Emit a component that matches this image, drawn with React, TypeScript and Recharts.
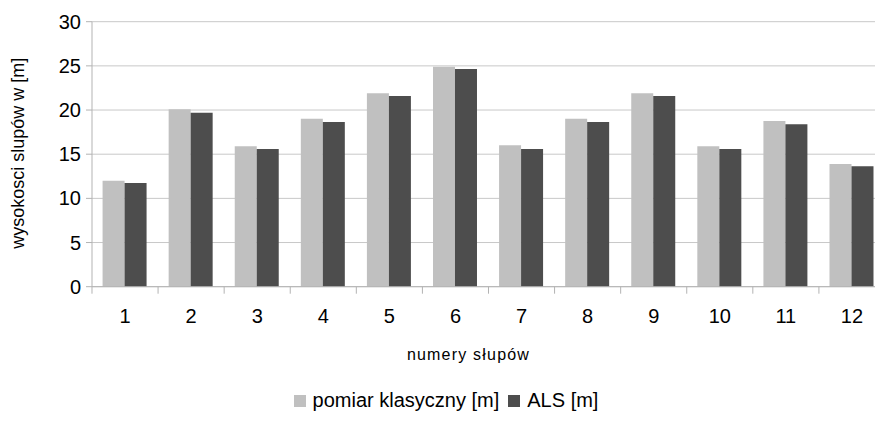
import React from "react";
import {
  BarChart,
  Bar,
  XAxis,
  YAxis,
  CartesianGrid,
  Legend,
} from "recharts";

const poles = ["1", "2", "3", "4", "5", "6", "7", "8", "9", "10", "11", "12"];
const classic = [12.0, 20.1, 15.9, 19.0, 21.9, 24.9, 16.0, 19.0, 21.9, 15.9, 18.75, 13.9];
const als = [11.75, 19.7, 15.6, 18.65, 21.6, 24.65, 15.6, 18.65, 21.6, 15.6, 18.4, 13.65];
const yTicks = [0, 5, 10, 15, 20, 25, 30];

const data = poles.map((p, i) => ({ pole: p, classic: classic[i], als: als[i] }));

const FONT = "'Liberation Sans', Arial, sans-serif";
const AXIS = "#b3b3b3";
const BAND = 66.1;

function XTick({ x, y, payload }: any) {
  return (
    <g>
      <line x1={x - BAND / 2} x2={x - BAND / 2} y1={y} y2={y + 7} stroke={AXIS} />
      <text x={x} y={y + 36} textAnchor="middle" fontSize={20} fontFamily={FONT} fill="#000">
        {payload.value}
      </text>
    </g>
  );
}

function LegendBox() {
  const items = [
    { name: "pomiar klasyczny [m]", color: "#c0c0c0" },
    { name: "ALS [m]", color: "#4d4d4d" },
  ];
  return (
    <div
      style={{
        display: "flex",
        justifyContent: "center",
        alignItems: "center",
        fontFamily: FONT,
        fontSize: 20,
        color: "#000",
        width: "100%",
      }}
    >
      {items.map((it, i) => (
        <span key={it.name} style={{ display: "flex", alignItems: "center", marginLeft: i ? 9 : 0 }}>
          <span style={{ width: 12, height: 12, background: it.color, marginRight: 7 }} />
          {it.name}
        </span>
      ))}
    </div>
  );
}

export default function App() {
  return (
    <div style={{ position: "absolute", left: 0, top: 0, width: 875, height: 425, overflow: "hidden", background: "#fff" }}>
      <BarChart
        width={892}
        height={425}
        data={data}
        margin={{ top: 21.7, right: 7, left: 0, bottom: 58.3 }}
        barCategoryGap="16%"
        barGap={0}
      >
        <CartesianGrid vertical={false} stroke="#c8c8c8" />
        <XAxis
          dataKey="pole"
          height={80}
          stroke={AXIS}
          tickLine={false}
          tickSize={0}
          tickMargin={0}
          tick={<XTick />}
          label={(props: any) => {
            const vb = props.viewBox;
            return (
              <text
                x={vb.x + vb.width / 2 - 20}
                y={360}
                textAnchor="middle"
                fontSize={16}
                letterSpacing={1.2}
                fontFamily={FONT}
                fill="#000"
              >
                numery słupów
              </text>
            );
          }}
        />
        <YAxis
          width={92}
          domain={[0, 30]}
          ticks={yTicks}
          stroke={AXIS}
          tickSize={6}
          tickMargin={5}
          tick={{ fontSize: 20, fontFamily: FONT, fill: "#000" }}
          label={(props: any) => {
            const vb = props.viewBox;
            const cy = vb.y + vb.height / 2 - 1;
            return (
              <text
                x={18}
                y={cy}
                transform={`rotate(-90, 18, ${cy})`}
                textAnchor="middle"
                dominantBaseline="central"
                fontSize={18}
                fontFamily={FONT}
                fill="#000"
              >
                wysokosci slupów w [m]
              </text>
            );
          }}
        />
        <Legend
          verticalAlign="middle"
          align="center"
          layout="horizontal"
          wrapperStyle={{ top: 389, left: 0, width: 892 }}
          content={<LegendBox />}
        />
        <Bar dataKey="classic" name="pomiar klasyczny [m]" fill="#c0c0c0" isAnimationActive={false} />
        <Bar dataKey="als" name="ALS [m]" fill="#4d4d4d" isAnimationActive={false} />
      </BarChart>
    </div>
  );
}
